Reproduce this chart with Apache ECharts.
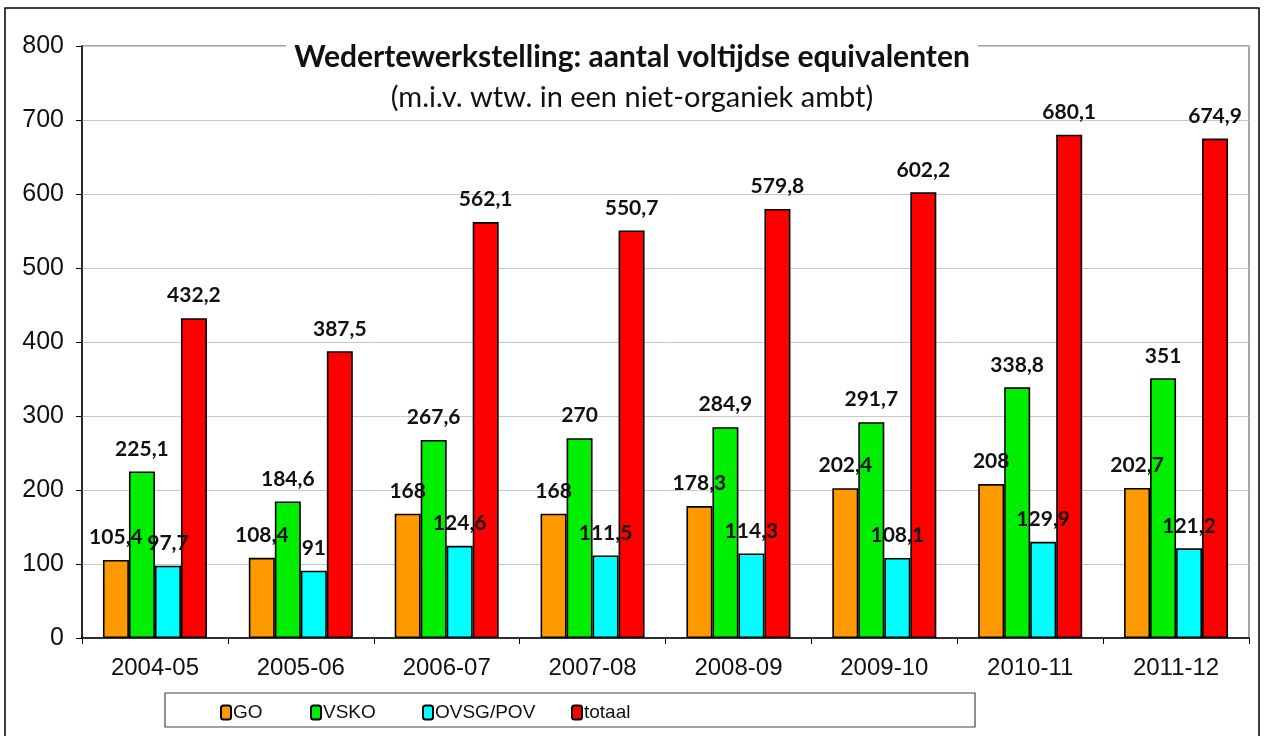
<!DOCTYPE html>
<html>
<head>
<meta charset="utf-8">
<script src="https://cdn.jsdelivr.net/npm/echarts@6/dist/echarts.min.js"></script>
<style>
    html, body { margin: 0; padding: 0; background: #fff; }
    #chart { width: 1264px; height: 736px; }
</style>
</head>
<body>
<div id="chart"></div>
<script>
const years = ["2004-05", "2005-06", "2006-07", "2007-08", "2008-09", "2009-10", "2010-11", "2011-12"];
const seriesNames = ["GO", "VSKO", "OVSG/POV", "totaal"];
const go = [105.4, 108.4, 168, 168, 178.3, 202.4, 208, 202.7];
const vsko = [225.1, 184.6, 267.6, 270, 284.9, 291.7, 338.8, 351];
const ovsg = [97.7, 91, 124.6, 111.5, 114.3, 108.1, 129.9, 121.2];
const totaal = [432.2, 387.5, 562.1, 550.7, 579.8, 602.2, 680.1, 674.9];

const colors = ["#ff9900", "#00ee00", "#00ffff", "#ff0000"];
const legendLeft = [220, 310, 422, 571];

const chart = echarts.init(document.getElementById("chart"));

function makeSeries(name, data, color) {
    return {
        name: name,
        type: "bar",
        data: data,
        barWidth: 26,
        barGap: "0%",
        itemStyle: { color: color, borderColor: "#000", borderWidth: 1.6 },
        label: {
            show: true,
            position: "top",
            distance: 12,
            fontFamily: "Lato",
            fontWeight: "bold",
            fontSize: 21,
            color: "#111",
            formatter: (p) => String(p.value).replace(".", ","),
        },
    };
}

chart.setOption({
    animation: false,
    backgroundColor: "#fff",
    title: {
        text: "Wedertewerkstelling: aantal voltijdse equivalenten",
        subtext: "(m.i.v. wtw. in een niet-organiek ambt)",
        left: "center",
        top: 40,
        itemGap: 11,
        padding: [2, 8, 4, 8],
        backgroundColor: "#fff",
        textStyle: { fontFamily: "Lato", fontWeight: "bold", fontSize: 30, color: "#111" },
        subtextStyle: { fontFamily: "Lato", fontSize: 29, color: "#111" },
    },
    legend: seriesNames.map((name, i) => ({
        data: [name],
        left: legendLeft[i],
        top: 703,
        padding: 0,
        itemWidth: 10,
        itemHeight: 14,
        textStyle: { fontFamily: "Liberation Sans", fontSize: 19, color: "#111", padding: [0, 0, 0, -3] },
    })),
    grid: { left: 82, right: 15, top: 46, bottom: 98, show: true, borderColor: "#888", borderWidth: 1.5 },
    xAxis: {
        type: "category",
        data: years,
        axisLine: { lineStyle: { color: "#000", width: 1.5 } },
        axisTick: { show: true, length: 6, lineStyle: { color: "#000" } },
        axisLabel: { fontFamily: "Liberation Sans", fontSize: 24, color: "#111", margin: 18 },
    },
    yAxis: {
        type: "value",
        min: 0,
        max: 800,
        interval: 100,
        axisLine: { show: true, lineStyle: { color: "#000", width: 1.5 } },
        axisTick: { show: true, length: 6, lineStyle: { color: "#000" } },
        axisLabel: { fontFamily: "Liberation Sans", fontSize: 25, color: "#111", margin: 18 },
        splitLine: { lineStyle: { color: "#c8c8c8", width: 1 } },
    },
    graphic: [
        {
            type: "rect",
            shape: { x: 5, y: 8, width: 1254, height: 740 },
            style: { fill: "none", stroke: "#000", lineWidth: 1.5 },
            silent: true,
        },
        {
            type: "rect",
            shape: { x: 165, y: 693, width: 810, height: 34 },
            style: { fill: "none", stroke: "#444", lineWidth: 1.2 },
            silent: true,
            z: -1,
        },
    ],
    series: seriesNames.map((name, i) => makeSeries(name, [go, vsko, ovsg, totaal][i], colors[i])),
});
</script>
</body>
</html>
